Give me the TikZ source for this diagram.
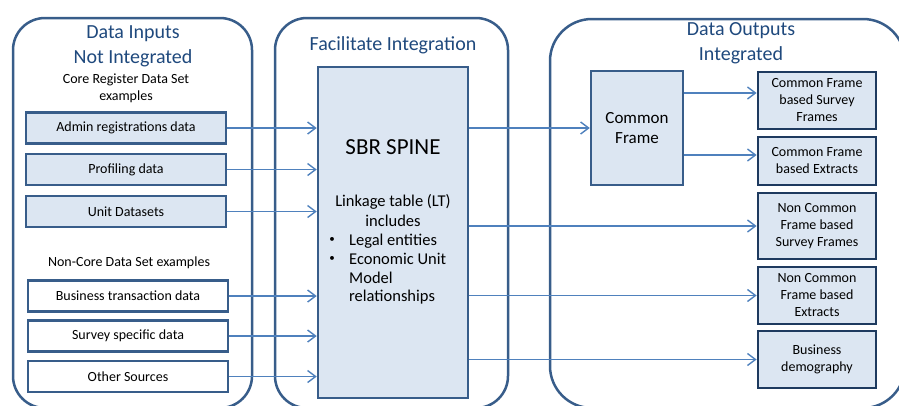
\documentclass[tikz,border=0pt]{standalone}
\usepackage{fontspec}
\setmainfont{Carlito}
\usetikzlibrary{arrows.meta}
\definecolor{contb}{RGB}{56,93,138}
\definecolor{titlec}{RGB}{31,73,125}
\definecolor{boxfill}{RGB}{220,230,242}
\definecolor{outb}{RGB}{30,58,95}
\definecolor{arrc}{RGB}{79,129,189}
\tikzset{
  container/.style={draw=contb, line width=2.5pt, rounded corners=32pt},
  title/.style={text=titlec, font=\fontsize{20}{24}\selectfont, align=center, inner sep=0pt},
  small/.style={font=\fontsize{14}{17}\selectfont, align=center, inner sep=0pt},
  spinetext/.style={font=\fontsize{16.5}{19}\selectfont, inner sep=0pt},
  bulletmark/.style={font=\fontsize{11}{13}\selectfont, inner sep=0pt},
  corebox/.style={draw=contb, fill=boxfill, line width=2.5pt, minimum width=200pt, minimum height=31pt, font=\fontsize{14}{17}\selectfont, inner sep=0pt},
  ncbox/.style={draw=contb, fill=white, line width=2.8pt, minimum width=200pt, minimum height=31pt, font=\fontsize{14}{17}\selectfont, inner sep=0pt},
  outbox/.style={draw=outb, fill=boxfill, line width=2.8pt, minimum width=118pt, font=\fontsize{14}{17}\selectfont, align=center, inner sep=0pt},
  bigbox/.style={draw=contb, fill=boxfill, line width=2.5pt, inner sep=0pt},
  conn/.style={draw=arrc, line width=1.5pt, -{Straight Barb[length=8pt,width=12pt,line width=1.4pt]}},
}
\begin{document}
\begin{tikzpicture}[x=1pt,y=-1pt]
\useasboundingbox (0,0) rectangle (899,405);
\clip (0,0) rectangle (899,405);
% containers
\draw[container] (13,18) rectangle (252,408);
\draw[container] (275,18) rectangle (508,408);
\draw[container, rounded corners=42pt] (550,19) rectangle (905,408);
% titles
\node[title] (t1) at (133,34) {Data Inputs};
\node[title] (t2) at (133,58) {Not Integrated};
\node[title] (t3) at (393,45) {Facilitate Integration};
\node[title] (t4) at (741,31) {Data Outputs};
\node[title] (t5) at (741,55) {Integrated};
% left side
\node[small] (core1) at (126,80) {Core Register Data Set};
\node[small] (core2) at (126,97) {examples};
\node[corebox] (admin) at (126,128) {Admin registrations data};
\node[corebox] (prof) at (126,169.5) {Profiling data};
\node[corebox] (unit) at (126,211.5) {Unit Datasets};
\node[small] (noncore) at (129,263) {Non-Core Data Set examples};
\node[ncbox] (bus) at (128,296) {Business transaction data};
\node[ncbox] (surv) at (128,336) {Survey specific data};
\node[ncbox] (other) at (128,376.5) {Other Sources};
% spine
\node[bigbox, minimum width=150pt, minimum height=331pt] (spine) at (393,232.5) {};
\node[inner sep=0pt, font=\fontsize{23}{27}\selectfont] (sbr) at (393,147) {SBR SPINE};
\node[spinetext, anchor=base] (l1) at (393,206) {Linkage table (LT)};
\node[spinetext, anchor=base] (l2) at (393,226) {includes};
\node[bulletmark] (b1) at (332,240) {\textbullet};
\node[spinetext, anchor=base west] (l3) at (349,245.5) {Legal entities};
\node[bulletmark] (b2) at (332,259) {\textbullet};
\node[spinetext, anchor=base west] (l4) at (349,264.5) {Economic Unit};
\node[spinetext, anchor=base west] (l5) at (349,283) {Model};
\node[spinetext, anchor=base west] (l6) at (349,301.5) {relationships};
% right side
\node[bigbox, minimum width=92pt, minimum height=114pt, align=center, font=\fontsize{17}{20.5}\selectfont] (cf) at (637,128) {Common\\Frame};
\node[outbox, minimum height=57pt] (o1) at (817,100.5) {Common Frame\\based Survey\\Frames};
\node[outbox, minimum height=48pt] (o2) at (817,161) {Common Frame\\based Extracts};
\node[outbox, minimum height=66pt] (o3) at (817,226) {Non Common\\Frame based\\Survey Frames};
\node[outbox, minimum height=57pt] (o4) at (817,295.5) {Non Common\\Frame based\\Extracts};
\node[outbox, minimum height=57pt] (o5) at (817,359.5) {Business\\demography};
% connectors
\foreach \b in {admin,prof,unit,bus,surv,other}
  \draw[conn] (\b.east) -- (\b.east -| spine.west);
\draw[conn] (spine.east |- cf.west) -- (cf.west);
\draw[conn] ([yshift=-27pt]cf.east) -- ([yshift=-27pt]cf.east -| o1.west);
\draw[conn] ([yshift=35pt]cf.east) -- ([yshift=35pt]cf.east -| o2.west);
\draw[conn] (spine.east |- o3.west) -- (o3.west);
\draw[conn] (spine.east |- o4.west) -- (o4.west);
\draw[conn] (spine.east |- o5.west) -- (o5.west);
\end{tikzpicture}
\end{document}
